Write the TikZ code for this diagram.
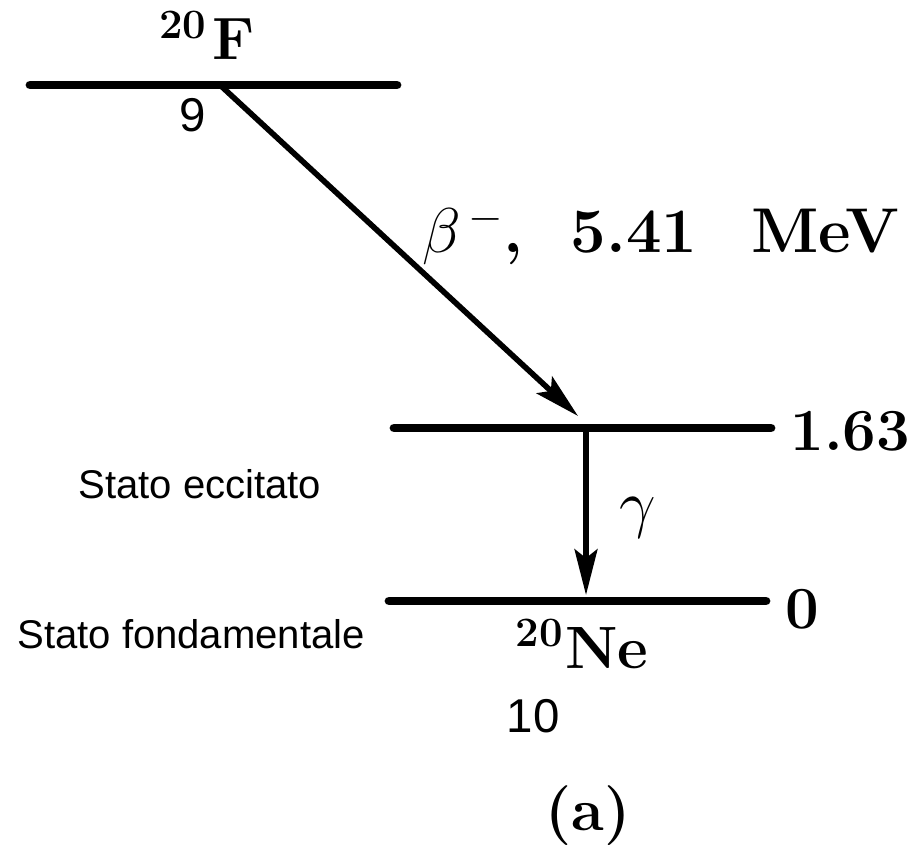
\RequirePackage{fix-cm}
\documentclass[tikz,border=0pt]{standalone}
\usepackage{fontspec}
\usepackage{amsmath}
\usepackage{tikz}
\usetikzlibrary{arrows.meta}
\newfontfamily\arialfont{Liberation Sans}
\definecolor{nero}{HTML}{000000}

\begin{document}
\begin{tikzpicture}[
  livello/.style={nero,line width=5pt,line cap=round},
  freccia/.style={nero,line width=3.2pt,-{Stealth[length=26pt,width=13pt,inset=5pt]}},
  grande/.style={inner sep=0pt,font=\fontsize{34}{40}\selectfont\bfseries},
  sans/.style={inner sep=0pt,font=\fontsize{22.8}{26}\selectfont\arialfont},
  numero/.style={inner sep=0pt,font=\fontsize{27}{30}\selectfont\arialfont}
]
\useasboundingbox (0,0) rectangle (18.4,16.88);
% Fluoro
\coordinate (Fsx) at (0.6,15.18);
\coordinate (Fdx) at (7.94,15.18);
\coordinate (b1) at (4.4,15.18);
\draw[livello] (Fsx)--(Fdx);
\node[grande,anchor=base] (nomeF) at (4.14,15.68) {\textsuperscript{20}\kern3pt F};
\node[numero,anchor=base] (zF) at (3.86,14.24) {9};
% Stato eccitato
\coordinate (Esx) at (7.88,8.32);
\coordinate (Edx) at (15.42,8.32);
\coordinate (b2) at (11.56,8.56);
\coordinate (g1) at (11.72,8.32);
\draw[livello] (Esx)--(Edx);
\node[grande,anchor=base west] (en1) at (15.8,7.88) {1.63};
\node[sans,anchor=base west] (ecc) at (1.56,6.92) {Stato eccitato};
% Stato fondamentale
\coordinate (Gsx) at (7.78,4.86);
\coordinate (Gdx) at (15.32,4.86);
\coordinate (g2) at (11.72,4.98);
\draw[livello] (Gsx)--(Gdx);
\node[grande,anchor=base west] (en0) at (15.7,4.32) {0};
\node[sans,anchor=base west] (fond) at (0.34,3.92) {Stato fondamentale};
\node[grande,anchor=base] (nomeNe) at (11.64,3.52) {\textsuperscript{20}\kern1pt Ne};
\node[numero,anchor=base] (zNe) at (10.66,2.24) {10};
% Decadimenti
\draw[freccia] (b1)--(b2);
\draw[freccia] (g1)--(g2);
\node[grande,anchor=base west,font=\fontsize{36}{42}\selectfont\bfseries] (betaLab) at (8.44,11.82) {$\beta^{\,-}$,\hskip0.75em 5.41\hskip0.85em MeV};
\node[grande,anchor=base west,font=\fontsize{37}{42}\selectfont] (gam) at (12.38,6.38) {$\gamma$};
\node[grande,anchor=base] (etich) at (11.76,0.28) {(a)};
\end{tikzpicture}
\end{document}
